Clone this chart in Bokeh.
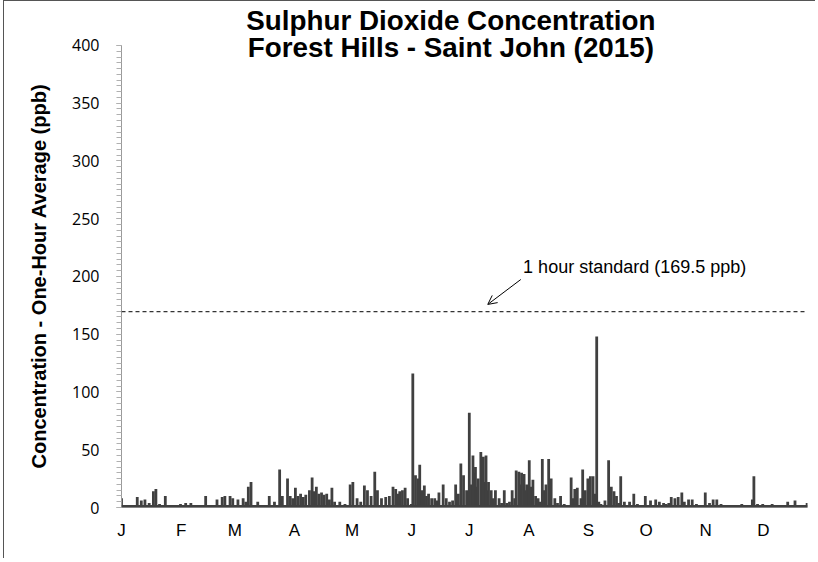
from bokeh.plotting import figure
from bokeh.models import (Range1d, FixedTicker, Span, Label, Arrow, OpenHead,
                          ColumnDataSource, Title)
from bokeh.embed import file_html
from bokeh.resources import INLINE

# ---------------- data ----------------
TITLE_1 = "Sulphur Dioxide Concentration"
TITLE_2 = "Forest Hills - Saint John (2015)"
Y_LABEL = "Concentration - One-Hour Average (ppb)"
STANDARD = 169.5
STANDARD_TEXT = "1 hour standard (169.5 ppb)"
BASELINE = 1.0

month_start_days = [0, 31, 59, 90, 120, 151, 181, 212, 243, 273, 304, 334]
month_labels = ["J", "F", "M", "A", "M", "J", "J", "A", "S", "O", "N", "D"]
y_ticks = [0, 50, 100, 150, 200, 250, 300, 350, 400]

# day of year of each observed peak, and its one-hour concentration (ppb)
peak_day = [0, 4.9, 8.2, 10.3, 12.2, 14.4, 16.6, 17.9, 19.8, 22.8, 26.6, 30.7,
            33.4, 36.1, 38.9, 43.8, 47, 49.7, 52.4, 53.8, 56.5, 57.9, 60.6,
            63.3, 64.7, 66, 67.4, 70.9, 74.2, 76.9, 79.6, 82.3, 83.7, 86.4,
            87.8, 89.1, 90.5, 91.8, 93.2, 94.6, 95.9, 97.8, 99.2, 100.3, 101.4,
            102.7, 104.1, 105.4, 106.8, 108.2, 109.5, 110.9, 113.6, 116.3, 119,
            120.4, 122.6, 124.5, 126.4, 128, 129.9, 131.8, 133.2, 135.3, 137.5,
            139.4, 141.3, 142.7, 143.8, 144.8, 146.2, 147.6, 148.9, 150.8,
            151.6, 153, 154.3, 155.2, 156.5, 157.6, 158.7, 159.8, 161.4, 163,
            164.1, 165.2, 167.4, 169, 170.7, 172.3, 173.9, 175.3, 176.6, 178,
            179.6, 181, 182.1, 182.9, 183.7, 184.2, 185, 185.6, 187, 187.8,
            188.3, 189.1, 189.7, 190.5, 191, 192.4, 193.5, 194.6, 196.5, 197.8,
            199.2, 200.5, 201.9, 203.3, 204.6, 205.4, 206.8, 207.6, 208.2,
            209.5, 210.3, 210.9, 212.2, 213, 214.1, 215.5, 216.8, 217.9, 219,
            220.1, 220.9, 222.3, 223.1, 223.6, 225.5, 226.9, 228.5, 230.4,
            232.3, 234, 235.1, 235.9, 237.2, 239.1, 240, 241.3, 242.7, 244,
            245.4, 246.2, 247.3, 248.4, 249.5, 251.6, 253.5, 254.9, 256.3,
            257.6, 258.7, 259.8, 261.7, 264.4, 266.6, 268.5, 270.7, 272.6,
            275.3, 278, 279.9, 282.1, 283.4, 284.8, 286.1, 288, 289.7, 291.6,
            292.9, 295.1, 297, 299.2, 301.1, 303.8, 306, 307.9, 309.8, 312,
            316, 318.8, 322.8, 325.5, 328.3, 329.1, 331, 333.7, 336.4, 338.6,
            341.8, 346.7, 348.6, 350.5, 352.7, 355.4, 356.8]
peak_ppb = [8, 2, 9, 6, 7, 4, 14, 16, 3, 10, 2, 3,
            4, 4, 2, 10, 2, 7, 9, 10, 10, 8, 7,
            8, 5, 18, 22, 5, 2, 10, 5, 33, 10, 25,
            10, 8, 17, 10, 12, 9, 11, 15, 26, 14, 18,
            12, 13, 11, 12, 7, 17, 5, 5, 3, 20,
            22, 8, 5, 19, 15, 10, 31, 15, 8, 9,
            10, 18, 16, 12, 14, 15, 17, 8, 3,
            116, 28, 25, 37, 15, 19, 10, 12, 8, 8,
            6, 13, 20, 8, 5, 6, 20, 12, 38, 28,
            15, 82, 20, 45, 30, 35, 18, 25, 48, 20,
            44, 22, 45, 15, 22, 15, 8, 15, 8, 4,
            15, 4, 5, 15, 8, 32, 31, 20, 30,
            29, 15, 20, 41, 18, 24, 10, 8, 5, 42,
            15, 20, 42, 18, 25, 8, 4, 10, 3,
            2, 26, 8, 16, 17, 8, 33, 15, 25, 27,
            27, 12, 148, 5, 3, 6, 41, 18, 14,
            10, 4, 27, 5, 5, 12, 3, 2, 10,
            6, 7, 5, 4, 3, 4, 9, 8, 9, 13,
            5, 7, 7, 3, 2, 13, 4, 7, 7, 3,
            2, 2, 3, 1, 7, 27, 3, 3, 2, 3,
            1, 5, 1, 6, 1, 2, 4]

X_MAX = 357
Y_MAX = 400
Y_TOP = 432  # headroom above the axis for the two-line title

# ---------------- figure ----------------
p = figure(width=812, height=558, output_backend="svg", toolbar_location=None,
           x_range=Range1d(0, X_MAX), y_range=Range1d(0, Y_TOP),
           min_border_left=117, min_border_right=9,
           min_border_top=7, min_border_bottom=52,
           background_fill_color="white", border_fill_color="white",
           styles={"border-top": "1px solid #555", "border-left": "1px solid #555",
                   "margin-left": "3px"})
p.outline_line_color = None
p.grid.grid_line_color = None

# data
src = ColumnDataSource(dict(x=peak_day, y=peak_ppb, y0=[0] * len(peak_day)))
p.segment(x0="x", y0="y0", x1="x", y1="y", source=src,
          line_color="#404040", line_width=2.8)
p.add_layout(Span(location=BASELINE, dimension="width",
                  line_color="#404040", line_width=2.5))

# standard line
p.add_layout(Span(location=STANDARD, dimension="width", line_color="black",
                  line_width=1, line_dash="4 3"))

# annotation
p.add_layout(Arrow(end=OpenHead(size=9, line_color="black", line_width=1),
                   x_start=207.8, y_start=197.4, x_end=190.6, y_end=175.8,
                   line_color="black", line_width=1))
p.add_layout(Label(x=209, y=207.8, text=STANDARD_TEXT,
                   text_font="Liberation Sans", text_font_size="18px",
                   text_color="black", text_baseline="middle",
                   text_align="left"))

# title (two lines)
p.add_layout(Label(x=171.4, y=421.5, text=TITLE_1, text_font="Liberation Sans",
                   text_font_size="27.8px", text_font_style="bold",
                   text_align="center", text_baseline="middle",
                   text_color="black"))
p.add_layout(Label(x=171.4, y=398, text=TITLE_2, text_font="Liberation Sans",
                   text_font_size="27.8px", text_font_style="bold",
                   text_align="center", text_baseline="middle",
                   text_color="black"))

# y axis
ya = p.yaxis[0]
ya.bounds = (0, Y_MAX)
ya.ticker = FixedTicker(ticks=y_ticks,
                        minor_ticks=[v * 5 for v in range(0, 81)])
ya.axis_line_color = "#9a9a9a"
ya.major_tick_line_color = "#9a9a9a"
ya.minor_tick_line_color = "#b0b0b0"
ya.major_tick_out = 5
ya.major_tick_in = 0
ya.minor_tick_out = 5
ya.minor_tick_in = 0
ya.major_label_standoff = 17
ya.major_label_text_font = "Open Sans"
ya.major_label_text_font_size = "16px"
ya.major_label_text_color = "black"

# y-axis title, starting near the bottom of the 0-400 span
p.add_layout(Title(text=Y_LABEL, align="left", offset=39, standoff=40,
                   text_font="Liberation Sans", text_font_size="20px",
                   text_font_style="bold", text_color="black"), "left")

# x axis
xa = p.xaxis[0]
xa.ticker = FixedTicker(ticks=month_start_days, minor_ticks=[])
xa.major_label_overrides = {d: m for d, m in zip(month_start_days, month_labels)}
xa.axis_line_color = "#9a9a9a"
xa.major_tick_line_color = None
xa.minor_tick_line_color = None
xa.major_tick_out = 0
xa.major_tick_in = 0
xa.major_label_standoff = 13
xa.major_label_text_font = "Liberation Sans"
xa.major_label_text_font_size = "17px"
xa.major_label_text_color = "black"

open("out.html", "w").write(file_html(p, INLINE))
